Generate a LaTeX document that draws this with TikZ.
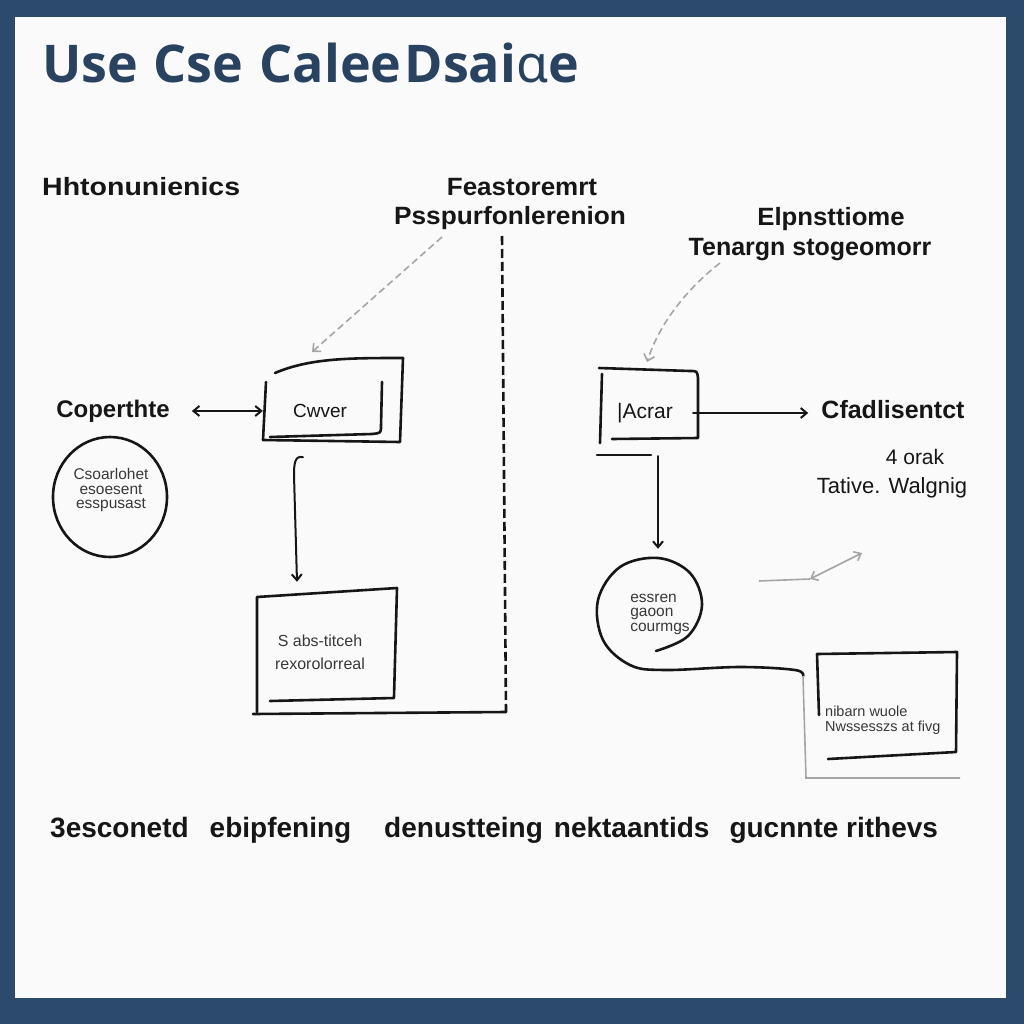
\documentclass[tikz,border=0pt]{standalone}
\usepackage{fontspec}
\setmainfont{Liberation Sans}
\newfontfamily\titlefont{Open Sans}
\newfontfamily\ipafont{Noto Sans}
\usetikzlibrary{arrows.meta}
\definecolor{frameblue}{RGB}{44,74,107}
\definecolor{titleblue}{RGB}{40,66,96}
\definecolor{ink}{RGB}{22,22,22}
\definecolor{paper}{RGB}{250,250,250}
\definecolor{hintgray}{RGB}{165,165,165}
\begin{document}
\begin{tikzpicture}[x=1pt,y=-1pt,
  sketch/.style={draw=ink, line width=2.6pt, line cap=round, line join=round},
  conn/.style={draw=ink, line width=2pt, line cap=round, -{Straight Barb[length=6pt,width=10pt,line width=2pt]}},
  biconn/.style={draw=ink, line width=2pt, {Straight Barb[length=6pt,width=10pt,line width=2pt]}-{Straight Barb[length=6pt,width=10pt,line width=2pt]}},
  lbl/.style={text=ink, font=\bfseries\fontsize{25}{27}\selectfont, inner sep=0pt},
  body/.style={text=ink, font=\fontsize{21}{23}\selectfont, inner sep=0pt},
  small/.style={text=ink!85, font=\fontsize{14}{15.5}\selectfont, inner sep=0pt, align=center},
  hint/.style={draw=hintgray, line width=1.6pt, dash pattern=on 7pt off 4pt, -{Straight Barb[length=6pt,width=11pt,line width=1.6pt]}},
  thin/.style={draw=hintgray, line width=1.6pt}
]
\useasboundingbox (0,0) rectangle (1024,1024);
\fill[frameblue] (0,0) rectangle (1024,1024);
\fill[paper] (15,17) rectangle (1006,998);

% title
\node[font=\titlefont\bfseries\fontsize{52}{60}\selectfont, text=titleblue, anchor=base west, inner sep=2pt] (title) at (40,83)
  {Use\hspace{15pt}Cse\hspace{17pt}Calee\hspace{3pt}Dsai{\ipafont\bfseries\char"0251}e};

% headings
\node[lbl, anchor=west] (hh) at (42,187) {\scalebox{1.14}[1]{Hhtonunienics}};
\node[lbl] (feas) at (522,187) {\scalebox{1.04}[1]{Feastoremrt}};
\node[lbl] (pssp) at (510,218) {\scalebox{1.05}[1]{Psspurfonlerenion}};
\node[lbl] (elpn) at (831,219) {\scalebox{1.03}[1]{Elpnsttiome}};
\node[lbl] (tena) at (810,250) {Tenargn stogeomorr};

% left side
\node[lbl, font=\bfseries\fontsize{24}{26}\selectfont] (cope) at (113,411) {Coperthte};
\node[body, font=\fontsize{19}{21}\selectfont, minimum width=114pt, minimum height=60pt] (cwver) at (320,411) {Cwver};
\draw[sketch] (275,373) .. controls (310,358) and (350,358) .. (403,358) -- (400,442) -- (263,440);
\draw[sketch] (266,382) -- (263,440);
\draw[sketch] (382,382) -- (381,426) .. controls (381,433) .. (372,434) -- (270,437);

\draw[biconn] ([xshift=22pt]cope.east) -- (cwver.west);

\draw (110,497) [sketch] ellipse (57 and 60);
\node[small, font=\fontsize{15.5}{16.5}\selectfont] (circ1) at (111,490) {Csoarlohet\\[-2pt]esoesent\\[-2pt]esspusast};

\node[small, font=\fontsize{16}{23}\selectfont, minimum width=140pt, minimum height=100pt] (box2) at (320,652) {S abs-titceh\\rexorolorreal};
\draw[sketch] (257,712) -- (257,597) -- (397,588) -- (394,697);
\draw[sketch] (270,701) -- (394,698);
\draw[sketch] (253,714) -- (506,712);
\draw[draw=ink, line width=2.6pt, dash pattern=on 9pt off 4pt] (502,236) -- (506,712);

\draw[conn] ([xshift=-17pt,yshift=-16pt]cwver.south) .. controls ([xshift=-25pt,yshift=-14pt]cwver.south) and ([xshift=-26pt,yshift=-22pt]cwver.south) .. ([xshift=-26pt,yshift=-34pt]cwver.south) -- ([xshift=-23pt,yshift=20pt]box2.north);

\coordinate (h1s) at (442,237);
\coordinate (h1e) at (312,352);
\draw[hint] (h1s) -- (h1e);

% right side
\node[body, font=\fontsize{21}{23}\selectfont, minimum width=96pt, minimum height=60pt] (acrar) at (645,413) {|Acrar};
\draw[sketch] (599,368) -- (690,371) .. controls (697,371) .. (698,378) -- (698,438) -- (612,439);
\draw[sketch] (602,374) -- (600,443);
\draw[sketch] (597,455) -- (651,455);

\node[lbl] (cfad) at (893,410) {Cfadlisentct};
\draw[conn] (acrar.east) -- ([xshift=-13pt]cfad.west |- acrar.east);

\node[body] (orak) at (915,457) {4 orak};
\node[body, font=\fontsize{22}{24}\selectfont] (tati) at (892,488) {Tative. Walgnig};

\coordinate (h2s) at (720,263);
\coordinate (h2e) at (647,362);
\draw[hint] (h2s) .. controls (688,288) and (660,322) .. (h2e);

\node[small, font=\fontsize{15.5}{14.5}\selectfont, align=left, minimum width=107pt, minimum height=114pt] (circ2) at (660,614) {essren\\gaoon\\courmgs};
\draw[conn] ([xshift=13pt,yshift=-13pt]acrar.south) -- ([xshift=-2pt,yshift=8pt]circ2.north);
\draw[sketch] plot[smooth, tension=0.6] coordinates {(656,651) (688,636) (702,605) (690,573) (658,558) (620,567) (598,600) (603,640) (630,665) (665,670) (740,667) (795,670) (803,676)};
\draw[thin] (803,676) -- (806,778) -- (960,778);

\coordinate (z1) at (759,581);
\coordinate (z2) at (810,579);
\coordinate (z3) at (862,553);
\draw[thin] (z1) -- (z2);
\draw[thin, {Straight Barb[length=6pt,width=10pt,line width=1.6pt]}-{Straight Barb[length=6pt,width=10pt,line width=1.6pt]}] (z2) -- (z3);

\node[small, align=left, anchor=west, font=\fontsize{14.5}{15}\selectfont] (box3) at (825,720) {nibarn wuole\\Nwssesszs at fivg};
\draw[sketch] (819,715) -- (817,654) -- (957,652) -- (956,752) -- (828,759);

% bottom row
\node[lbl, font=\bfseries\fontsize{28}{30}\selectfont, anchor=west] (bottom) at (50,830)
  {3esconetd\hspace{21pt}ebipfening\hspace{33pt}denustteing\hspace{11pt}nektaantids\hspace{20pt}gucnnte rithevs};
\end{tikzpicture}
\end{document}
